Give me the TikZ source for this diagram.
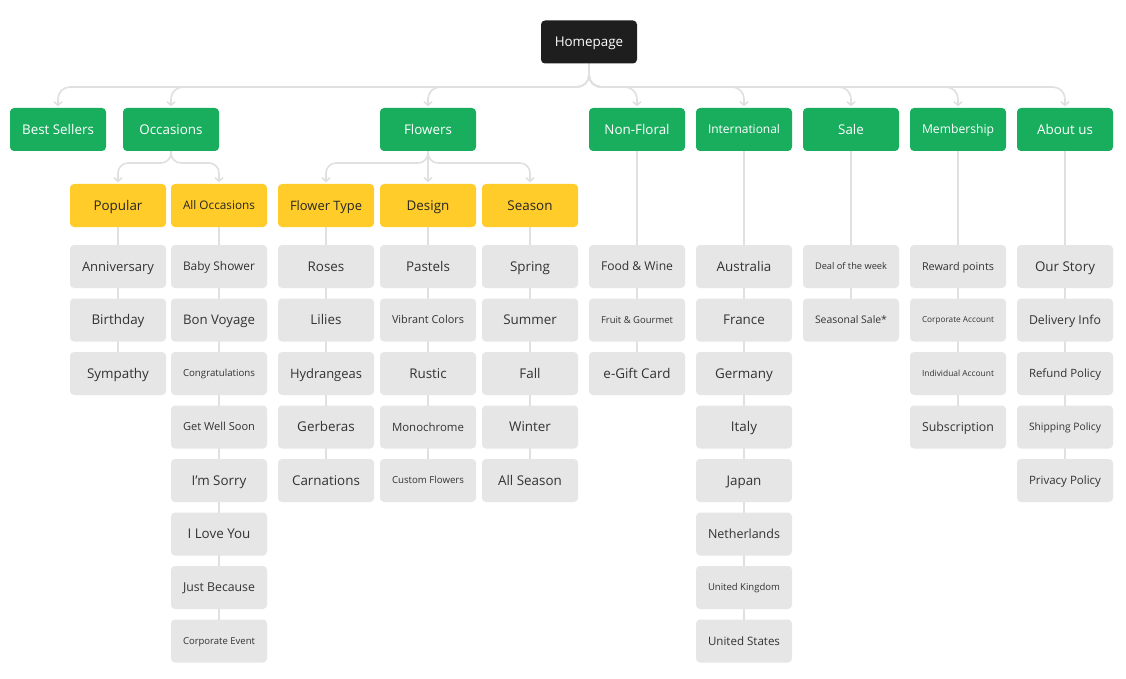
\documentclass[tikz,border=0pt]{standalone}
\usepackage{fontspec}
\setmainfont{Open Sans}
\usepackage{graphicx}
\usetikzlibrary{arrows.meta,backgrounds}
\definecolor{rootfill}{HTML}{1E1E1E}
\definecolor{mygreen}{HTML}{18AE5E}
\definecolor{myyellow}{HTML}{FFCC29}
\definecolor{ytext}{HTML}{262626}
\definecolor{cfill}{HTML}{E6E6E6}
\definecolor{ctext}{HTML}{333333}
\definecolor{conncol}{HTML}{E0E0E0}
\newsavebox\fitbox
\newlength\capht
\newcommand\fitt[1]{\sbox\fitbox{#1}\settoheight\capht{H}\ht\fitbox=\capht\dp\fitbox=0pt\ifdim\wd\fitbox>72pt\resizebox{72pt}{!}{\usebox\fitbox}\else\usebox\fitbox\fi}
\newcommand\colitems[3]{\foreach \t [count=\i] in {#3} {\node[cbox] (#1\i) at (#2,{266.5+53.5*(\i-1)}) {\fitt{\t}};}}
\begin{document}
\begin{tikzpicture}[x=1pt,y=-1pt,
  box/.style={rounded corners=4pt, minimum width=96pt, minimum height=43pt, inner sep=0pt, font=\fontsize{13.4}{16}\selectfont},
  rootbox/.style={box, fill=rootfill, text=white},
  gbox/.style={box, fill=mygreen, text=white},
  ybox/.style={box, fill=myyellow, text=ytext},
  cbox/.style={box, fill=cfill, text=ctext},
  conn/.style={draw=conncol, line width=1.6pt},
  arr/.style={conn, -{Straight Barb[length=3.5pt,width=8pt]}, shorten >=1.5pt},
]
\useasboundingbox (0,0) rectangle (1126,679);
\coordinate (h1) at (0,87);
\coordinate (h2) at (0,163);
% root
\node[rootbox] (root) at (589,42) {\fitt{Homepage}};
% level 1
\node[gbox] (best)  at (58,129.5)   {\fitt{Best Sellers}};
\node[gbox] (occ)   at (171,129.5)  {\fitt{Occasions}};
\node[gbox] (flow)  at (428,129.5)  {\fitt{Flowers}};
\node[gbox] (nonf)  at (637,129.5)  {\fitt{Non-Floral}};
\node[gbox] (intl)  at (744,129.5)  {\fitt{International}};
\node[gbox] (sale)  at (851,129.5)  {\fitt{Sale}};
\node[gbox] (memb)  at (958,129.5)  {\fitt{Membership}};
\node[gbox] (about) at (1065,129.5) {\fitt{About us}};
% level 2
\node[ybox] (pop)    at (118,205.5) {\fitt{Popular}};
\node[ybox] (allo)   at (219,205.5) {\fitt{All Occasions}};
\node[ybox] (ftype)  at (326,205.5) {\fitt{Flower Type}};
\node[ybox] (design) at (428,205.5) {\fitt{Design}};
\node[ybox] (season) at (530,205.5) {\fitt{Season}};
% leaves
\colitems{pop}{118}{Anniversary,Birthday,Sympathy}
\colitems{allo}{219}{Baby Shower,Bon Voyage,Congratulations,Get Well Soon,I'm Sorry,I Love You,Just Because,Corporate Event}
\colitems{ftype}{326}{Roses,Lilies,Hydrangeas,Gerberas,Carnations}
\colitems{design}{428}{Pastels,Vibrant Colors,Rustic,Monochrome,Custom Flowers}
\colitems{season}{530}{Spring,Summer,Fall,Winter,All Season}
\colitems{nonf}{637}{Food \& Wine,Fruit \& Gourmet,e-Gift Card}
\colitems{intl}{744}{Australia,France,Germany,Italy,Japan,Netherlands,United Kingdom,United States}
\colitems{sale}{851}{Deal of the week,Seasonal Sale*}
\colitems{memb}{958}{Reward points,Corporate Account,Individual Account,Subscription}
\colitems{about}{1065}{Our Story,Delivery Info,Refund Policy,Shipping Policy,Privacy Policy}
\begin{scope}[on background layer]
\fill[white] (0,0) rectangle (1126,679);
\foreach \c in {best,occ,flow,nonf,intl,sale,memb,about}
  \draw[arr, rounded corners=12pt] (root.south) |- (\c.north |- h1) -- (\c.north);
\foreach \c in {pop,allo}
  \draw[arr, rounded corners=10pt] (occ.south) |- (\c.north |- h2) -- (\c.north);
\foreach \c in {ftype,season}
  \draw[arr, rounded corners=10pt] (flow.south) |- (\c.north |- h2) -- (\c.north);
\draw[arr] (flow.south) -- (design.north);
\draw[conn] (pop.south) -- (pop3.center);
\draw[conn] (allo.south) -- (allo8.center);
\draw[conn] (ftype.south) -- (ftype5.center);
\draw[conn] (design.south) -- (design5.center);
\draw[conn] (season.south) -- (season5.center);
\draw[conn] (nonf.south) -- (nonf3.center);
\draw[conn] (intl.south) -- (intl8.center);
\draw[conn] (sale.south) -- (sale2.center);
\draw[conn] (memb.south) -- (memb4.center);
\draw[conn] (about.south) -- (about5.center);
\end{scope}
\end{tikzpicture}
\end{document}
